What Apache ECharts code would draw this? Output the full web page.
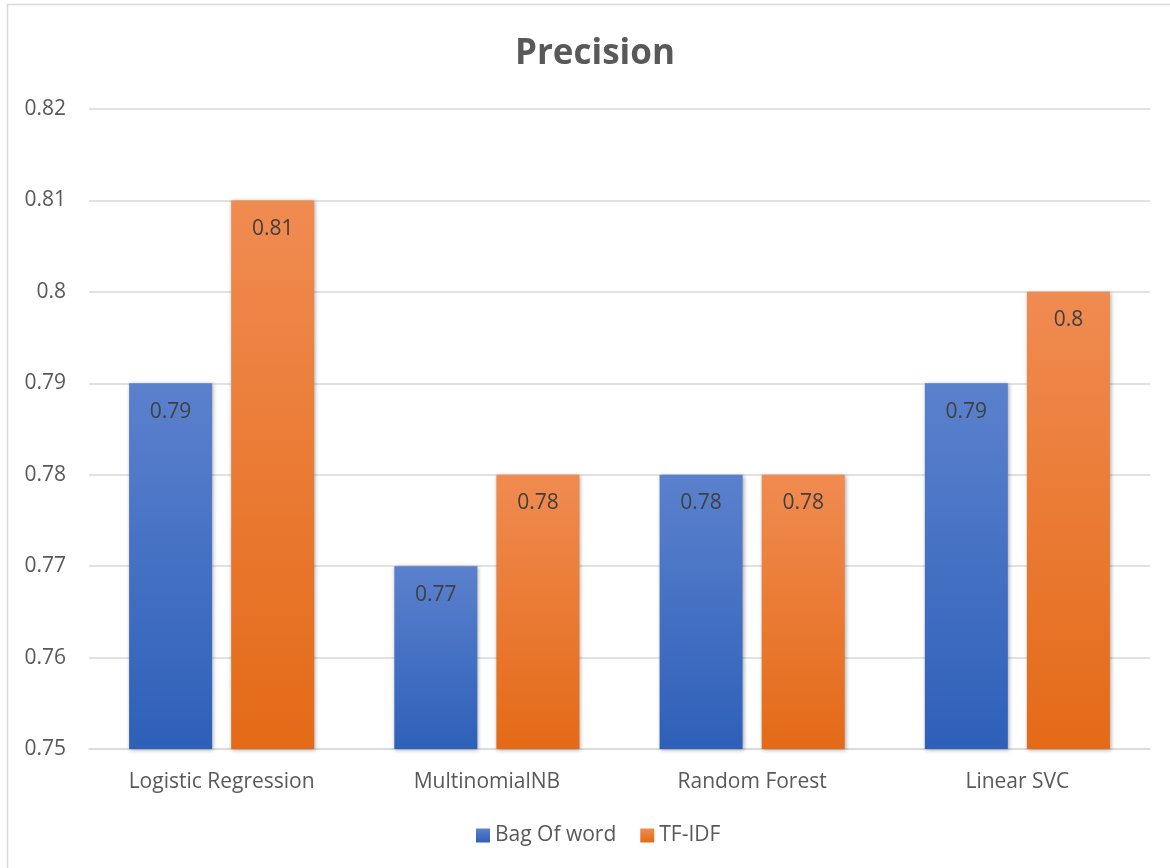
<!DOCTYPE html>
<html>
<head>
<meta charset="utf-8">
<script src="https://cdn.jsdelivr.net/npm/echarts@6/dist/echarts.min.js"></script>
<style>
  html, body { margin: 0; padding: 0; background: #fff; }
  #chart { width: 1170px; height: 868px; }
</style>
</head>
<body>
<div id="chart"></div>
<script>
// Precision of each classifier for the two text representations
const categories = ['Logistic Regression', 'MultinomialNB', 'Random Forest', 'Linear SVC'];
const bagOfWord = [0.79, 0.77, 0.78, 0.79];
const tfIdf = [0.81, 0.78, 0.78, 0.80];
const yTicks = { min: 0.75, max: 0.82, step: 0.01 };

const FONT = '"Open Sans", "Noto Sans", sans-serif';

function vGrad(top, bottom) {
  return new echarts.graphic.LinearGradient(0, 0, 0, 1, [
    { offset: 0, color: top },
    { offset: 1, color: bottom }
  ]);
}

const chart = echarts.init(document.getElementById('chart'), null, { renderer: 'canvas' });

const barLabel = {
  show: true,
  position: 'insideTop',
  distance: 18,
  color: '#404040',
  fontSize: 21,
  fontFamily: FONT
};

chart.setOption({
  animation: false,
  backgroundColor: '#ffffff',
  graphic: [{
    type: 'rect',
    shape: { x: 7.5, y: 4.5, width: 1200, height: 900 },
    style: { fill: 'none', stroke: '#d9d9d9', lineWidth: 1.5 },
    silent: true,
    z: -10
  }],
  title: {
    text: 'Precision',
    left: 510,
    top: 32,
    textStyle: { fontSize: 35, fontWeight: 'bold', color: '#595959', fontFamily: FONT }
  },
  legend: {
    bottom: 17,
    left: 471,
    itemWidth: 14,
    itemHeight: 14,
    itemGap: 24,
    icon: 'rect',
    textStyle: { fontSize: 21, color: '#595959', fontFamily: FONT },
    data: ['Bag Of word', 'TF-IDF']
  },
  grid: { left: 89, right: 20, top: 109, bottom: 119 },
  xAxis: {
    type: 'category',
    data: categories,
    axisLine: { show: true, lineStyle: { color: '#d9d9d9', width: 1.5 } },
    axisTick: { show: false },
    axisLabel: { fontSize: 21, color: '#595959', fontFamily: FONT, margin: 23 }
  },
  yAxis: {
    type: 'value',
    min: yTicks.min,
    max: yTicks.max,
    interval: yTicks.step,
    axisLine: { show: false },
    axisTick: { show: false },
    axisLabel: {
      fontSize: 21, color: '#595959', fontFamily: FONT, margin: 23,
      formatter: v => String(Math.round(v * 100) / 100)
    },
    splitLine: { lineStyle: { color: '#d9d9d9', width: 1.5 } }
  },
  series: [
    {
      name: 'Bag Of word',
      type: 'bar',
      data: bagOfWord,
      barWidth: 83,
      barGap: '23%',
      itemStyle: {
        color: vGrad('#5b81cd', '#2e60b9'),
        shadowColor: 'rgba(0,0,0,0.35)',
        shadowBlur: 4,
        shadowOffsetX: 1,
        shadowOffsetY: 1
      },
      label: barLabel
    },
    {
      name: 'TF-IDF',
      type: 'bar',
      data: tfIdf,
      barWidth: 83,
      itemStyle: {
        color: vGrad('#f08b51', '#e46a17'),
        shadowColor: 'rgba(0,0,0,0.35)',
        shadowBlur: 4,
        shadowOffsetX: 1,
        shadowOffsetY: 1
      },
      label: barLabel
    }
  ]
});
</script>
</body>
</html>
